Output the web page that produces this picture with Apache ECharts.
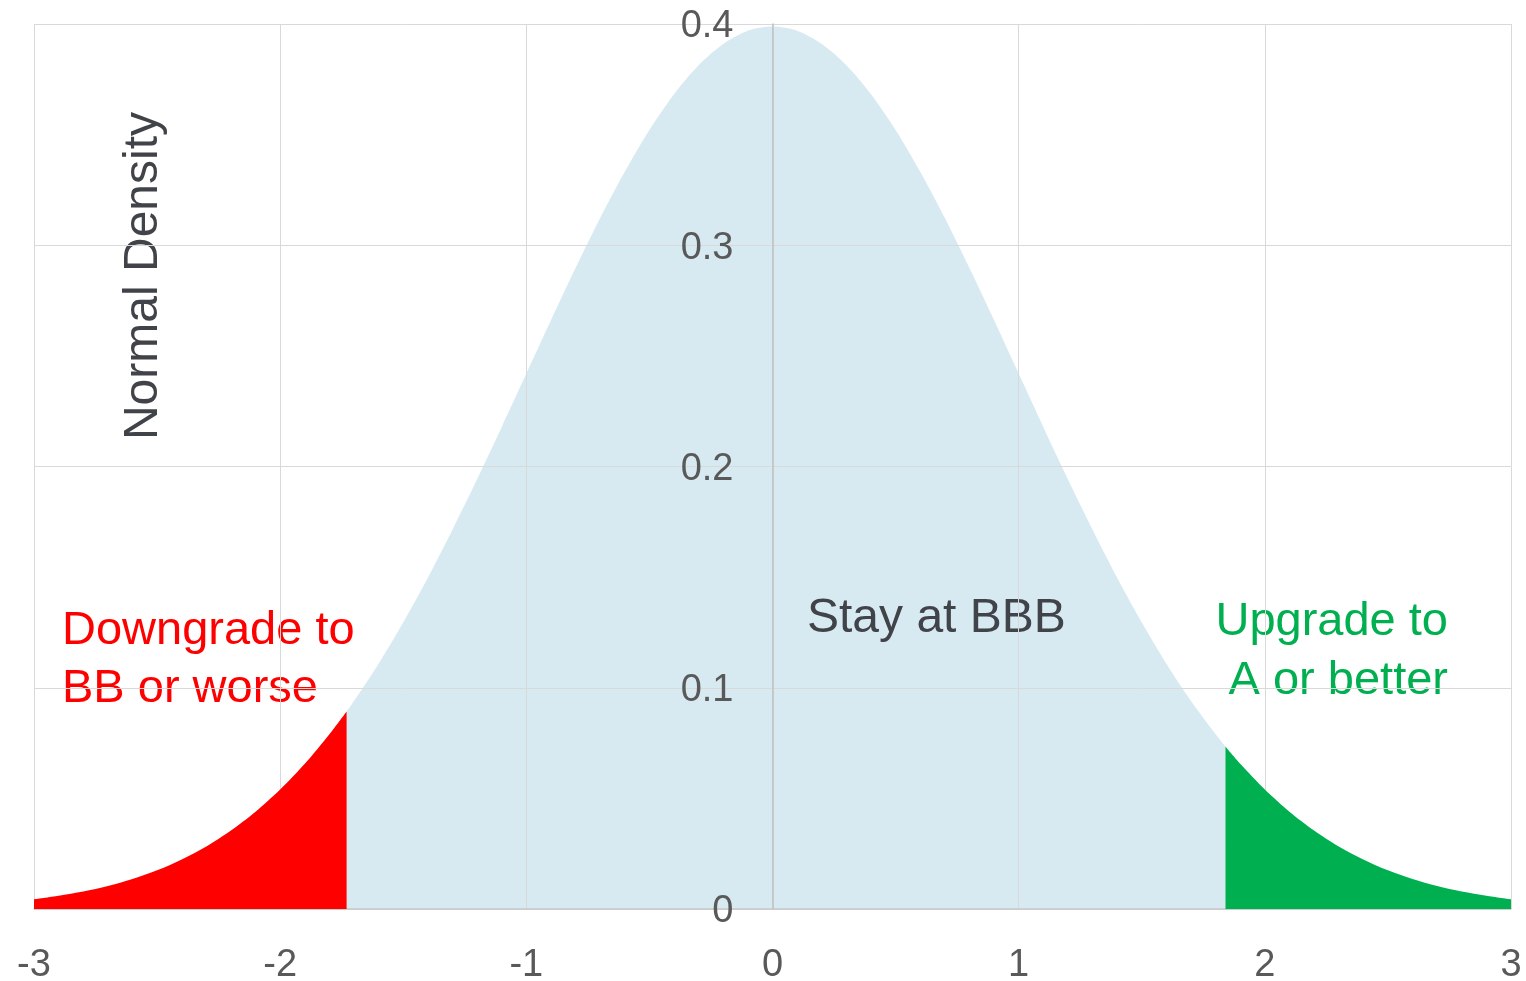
<!DOCTYPE html>
<html>
<head>
<meta charset="utf-8">
<script src="https://cdn.jsdelivr.net/npm/echarts@6/dist/echarts.min.js"></script>
<style>
  html, body { margin: 0; padding: 0; background: #ffffff; }
  #chart { width: 1526px; height: 981px; }
</style>
</head>
<body>
<div id="chart"></div>
<script>
// Standardised asset value (z) and the normal density read at each point
const zScores = [
  -3.0, -2.9, -2.8, -2.7, -2.6, -2.5, -2.4, -2.3, -2.2, -2.1,
  -2.0, -1.9, -1.8, -1.7, -1.6, -1.5, -1.4, -1.3, -1.2, -1.1,
  -1.0, -0.9, -0.8, -0.7, -0.6, -0.5, -0.4, -0.3, -0.2, -0.1,
   0.0,
   0.1,  0.2,  0.3,  0.4,  0.5,  0.6,  0.7,  0.8,  0.9,  1.0,
   1.1,  1.2,  1.3,  1.4,  1.5,  1.6,  1.7,  1.8,  1.9,  2.0,
   2.1,  2.2,  2.3,  2.4,  2.5,  2.6,  2.7,  2.8,  2.9,  3.0
];
const density = [
  0.0044, 0.0060, 0.0079, 0.0104, 0.0136, 0.0175, 0.0224, 0.0283, 0.0355, 0.0440,
  0.0540, 0.0656, 0.0790, 0.0940, 0.1109, 0.1295, 0.1497, 0.1714, 0.1942, 0.2179,
  0.2420, 0.2661, 0.2897, 0.3123, 0.3332, 0.3521, 0.3683, 0.3814, 0.3910, 0.3970,
  0.3989,
  0.3970, 0.3910, 0.3814, 0.3683, 0.3521, 0.3332, 0.3123, 0.2897, 0.2661, 0.2420,
  0.2179, 0.1942, 0.1714, 0.1497, 0.1295, 0.1109, 0.0940, 0.0790, 0.0656, 0.0540,
  0.0440, 0.0355, 0.0283, 0.0224, 0.0175, 0.0136, 0.0104, 0.0079, 0.0060, 0.0044
];

// Rating-change thresholds: [z, density at z]
const downgradeCutoff = [-1.73, 0.0893];
const upgradeCutoff = [1.84, 0.0734];

// Region labels
const downgradeLabel = ['Downgrade to', 'BB or worse'];
const stayLabel = 'Stay at BBB';
const upgradeLabel = ['Upgrade to', 'A or better'];
const yAxisTitle = 'Normal Density';

// Split the curve into the three rating regions
const points = zScores.map((z, i) => [z, density[i]]);
const downgradeArea = points.filter(p => p[0] < downgradeCutoff[0]).concat([downgradeCutoff]);
const stayArea = [downgradeCutoff]
  .concat(points.filter(p => p[0] > downgradeCutoff[0] && p[0] < upgradeCutoff[0]))
  .concat([upgradeCutoff]);
const upgradeArea = [upgradeCutoff].concat(points.filter(p => p[0] > upgradeCutoff[0]));

const FONT = '"Liberation Sans", Arial, Helvetica, sans-serif';

const GRID_LEFT = 34;
const GRID_RIGHT = 15;
const CHART_W = 1526;

function areaSeries(name, data, color, z) {
  return {
    name: name,
    type: 'line',
    data: data,
    smooth: 0.3,
    symbol: 'none',
    z: z,
    lineStyle: { width: 0, color: color },
    areaStyle: { color: color, opacity: 1 },
    silent: true,
    animation: false
  };
}

const chart = echarts.init(document.getElementById('chart'), null, { renderer: 'canvas' });

// The vertical axis sits at z = 0 (centre of the -3..3 range)
const plotWidth = CHART_W - GRID_LEFT - GRID_RIGHT;
const zeroOffset = -plotWidth / 2;

chart.setOption({
  backgroundColor: '#ffffff',
  animation: false,
  grid: { left: GRID_LEFT, right: GRID_RIGHT, top: 24, bottom: 72, containLabel: false, outerBoundsMode: 'none' },
  xAxis: {
    type: 'value',
    min: -3,
    max: 3,
    interval: 1,
    z: 3,
    axisLine: { show: true, onZero: true, lineStyle: { color: '#c8c8c8', width: 1.5 } },
    axisTick: { show: false },
    splitLine: { show: true, lineStyle: { color: '#d9d9d9', width: 1 } },
    axisLabel: {
      show: true,
      margin: 38,
      color: '#595959',
      fontSize: 38,
      fontFamily: FONT,
      showMinLabel: true,
      showMaxLabel: true
    }
  },
  yAxis: {
    type: 'value',
    position: 'left',
    offset: zeroOffset,
    min: 0,
    max: 0.4,
    interval: 0.1,
    z: 3,
    axisLine: { show: true, onZero: false, lineStyle: { color: '#bfbfbf', width: 1.5 } },
    axisTick: { show: false },
    splitLine: { show: true, lineStyle: { color: '#d9d9d9', width: 1 } },
    axisLabel: {
      show: true,
      margin: 39,
      verticalAlign: 'top',
      lineHeight: 6,
      color: '#595959',
      fontSize: 38,
      fontFamily: FONT,
      showMinLabel: true,
      showMaxLabel: true,
      hideOverlap: false
    }
  },
  series: [
    areaSeries('Stay at BBB', stayArea, '#d7e9f1', 1),
    areaSeries('Downgrade', downgradeArea, '#ff0000', 4),
    areaSeries('Upgrade', upgradeArea, '#00b050', 4)
  ],
  graphic: [
    {
      type: 'text',
      z: 2,
      silent: true,
      style: {
        text: downgradeLabel.join('\n'),
        x: 62, y: 602,
        font: '47px ' + FONT,
        fill: '#ff0000',
        align: 'left', verticalAlign: 'top',
        textAlign: 'left', textVerticalAlign: 'top',
        lineHeight: 58
      }
    },
    {
      type: 'text',
      z: 2,
      silent: true,
      style: {
        text: stayLabel,
        x: 807, y: 619,
        font: '48px ' + FONT,
        fill: '#404448',
        align: 'left', verticalAlign: 'middle',
        textAlign: 'left', textVerticalAlign: 'middle'
      }
    },
    {
      type: 'text',
      z: 2,
      silent: true,
      style: {
        text: upgradeLabel.join('\n'),
        x: 1448, y: 593,
        font: '47px ' + FONT,
        fill: '#00b050',
        align: 'right', verticalAlign: 'top',
        textAlign: 'right', textVerticalAlign: 'top',
        lineHeight: 59
      }
    },
    {
      type: 'text',
      z: 2,
      silent: true,
      x: 144,
      y: 276,
      rotation: Math.PI / 2,
      style: {
        text: yAxisTitle,
        x: 0, y: 0,
        font: '48px ' + FONT,
        fill: '#404448',
        align: 'center', verticalAlign: 'middle',
        textAlign: 'center', textVerticalAlign: 'middle'
      }
    }
  ]
});
</script>
</body>
</html>
